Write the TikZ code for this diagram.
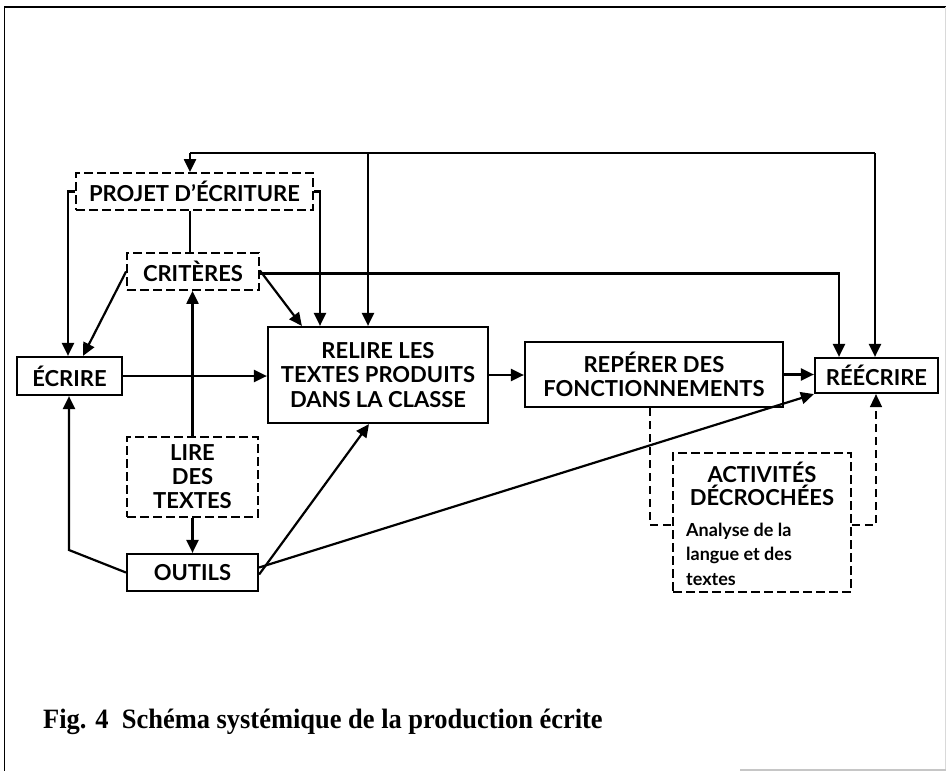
\documentclass[tikz,border=0pt]{standalone}
\usepackage{fontspec}
\setmainfont{Liberation Serif}
\newfontfamily\boxfont{Lato}
\usetikzlibrary{arrows.meta,calc}
\begin{document}
\begin{tikzpicture}[x=1pt,y=-1pt,
  conn/.style={line width=2.2pt},
  arr/.style={conn,-{Triangle[length=13pt,width=12pt]}},
  dconn/.style={line width=1.6pt,dash pattern=on 8pt off 5pt},
  darr/.style={dconn,-{Triangle[length=13pt,width=12pt]}},
  solidbox/.style={draw,line width=2.2pt,inner sep=0pt,align=center,font=\boxfont\bfseries\fontsize{22}{24.5}\selectfont},
  dashbox/.style={solidbox,line width=1.8pt,dash pattern=on 9pt off 4pt},
  boxtext/.style={inner sep=0pt,font=\boxfont\bfseries\fontsize{22}{23}\selectfont},
]
\useasboundingbox (0,0) rectangle (946,771);
\draw[line width=1.5pt] (4.5,771) -- (4.5,7) -- (946,7);
\draw[gray!30,line width=1pt] (945,7) -- (945,771);
\draw[gray!45,line width=1.2pt] (740,770) -- (946,770);

\node[dashbox,minimum width=237pt,minimum height=37pt] (projet) at (194.5,191.5) {PROJET D’ÉCRITURE};
\node[dashbox,minimum width=132pt,minimum height=37pt] (criteres) at (193,271.5) {CRITÈRES};
\node[solidbox,minimum width=105pt,minimum height=38pt] (ecrire) at (69.5,376) {ÉCRIRE};
\node[solidbox,minimum width=220pt,minimum height=96pt] (relire) at (378,375) {RELIRE LES\\TEXTES PRODUITS\\DANS LA CLASSE};
\node[solidbox,minimum width=258pt,minimum height=65pt] (reperer) at (654,374.5) {REPÉRER DES\\FONCTIONNEMENTS};
\node[solidbox,minimum width=123pt,minimum height=35pt] (reecrire) at (876.5,375.5) {RÉÉCRIRE};
\node[dashbox,minimum width=131pt,minimum height=80pt,font=\boxfont\bfseries\fontsize{22}{24}\selectfont] (lire) at (192.5,477) {LIRE\\DES\\TEXTES};
\node[solidbox,minimum width=131pt,minimum height=37pt] (outils) at (192.5,572.5) {OUTILS};
\node[dashbox,minimum width=178pt,minimum height=139pt] (activites) at (762,522.5) {};
\node[boxtext,align=center] (acttitle) at (762,483.5) {ACTIVITÉS\\DÉCROCHÉES};
\node[boxtext,align=left,anchor=west,font=\boxfont\bfseries\fontsize{18}{24.5}\selectfont] (actbody) at (686,554) {Analyse de la\\langue et des\\textes};

% top bus
\coordinate (tl) at (190,153);
\coordinate (tm) at (368,153);
\coordinate (tr) at (875,153);
\draw[conn] (tl) -- (tr);
\draw[arr] (tl) -- (tl |- projet.north);
\draw[arr] (tm) -- (tm |- relire.north);
\draw[arr] (tr) -- (tr |- reecrire.north);

\draw[arr] (projet.west) -| ([xshift=-1.5pt]ecrire.north);
\coordinate (pe) at (320,0);
\draw[arr] (projet.east) -| (pe |- relire.north);
\draw[conn] ([xshift=-3pt]criteres.north |- projet.south) -- ([xshift=-3pt]criteres.north);

\coordinate (ce) at (839,0);
\draw[arr] ([yshift=-2pt]criteres.east) -| (ce |- reecrire.north);
\draw[arr] ([yshift=1pt]criteres.east) -- ($(relire.north west)+(35,0)$);
\draw[arr] (criteres.west) -- ($(ecrire.north)+(13.5,0)$);
\draw[arr] (lire.north) -- (lire.north |- criteres.south);

\draw[arr] (ecrire.east) -- (ecrire.east -| relire.west);
\draw[arr] (relire.east) -- (relire.east -| reperer.west);
\draw[arr] (reperer.east) -- (reperer.east -| reecrire.west);

\draw[arr] (lire.south) -- (outils.north);
\coordinate (ob) at (69,550);
\draw[arr] (outils.west) -- (ob) -- (ob |- ecrire.south);
\draw[arr] ([yshift=-2pt]outils.east) -- ($(relire.south)+(-9,0)$);
\draw[arr] ([yshift=5pt]outils.east) -- (reecrire.south west);

\coordinate (dl) at (650,525);
\coordinate (dr) at (876,525);
\draw[dconn] (reperer.south -| dl) -- (dl) -- (dl -| activites.west);
\draw[darr] (activites.east |- dr) -- (dr) -- (dr |- reecrire.south);

\node[anchor=base west,inner sep=0pt,font=\fontsize{28}{30}\selectfont\bfseries] (caption) at (43,728) {\scalebox{0.945}[1]{Fig. 4\ \ Schéma systémique de la production écrite}};
\end{tikzpicture}
\end{document}
